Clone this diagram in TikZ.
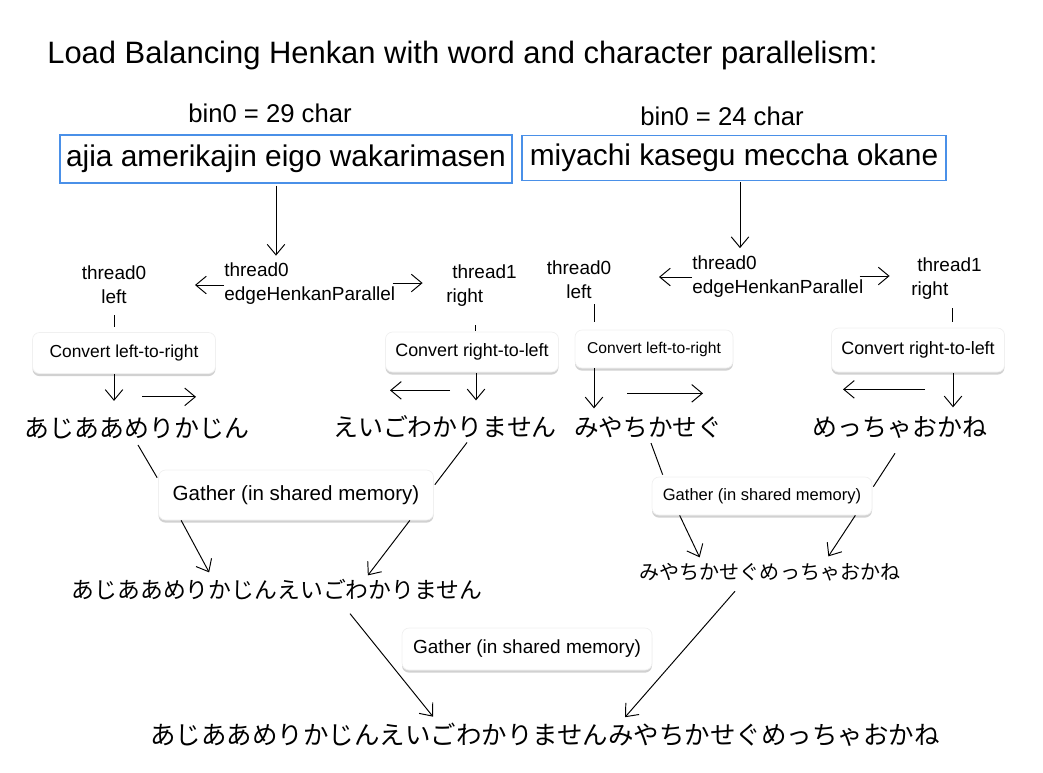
\documentclass[tikz,border=0pt]{standalone}
\usepackage{fontspec}
\setmainfont{Liberation Sans}
\newfontfamily\jpfont{Noto Sans CJK JP}
\usetikzlibrary{arrows.meta,shadows,calc}
\definecolor{binblue}{HTML}{4A90E8}
\def\px{0.02cm}
\tikzset{
  bin/.style = {draw=binblue, line width=0.7pt, inner sep=0pt,
                font=\fontsize{17}{20}\selectfont},
  card/.style = {rounded corners=4pt, fill=white, draw=black!6, line width=0.4pt,
                 drop shadow={shadow xshift=0pt, shadow yshift=-1.5pt,
                              opacity=0.3, fill=black!60}},
  thr/.style = {font=\fontsize{10.8}{13.6}\selectfont, inner sep=0pt},
  kana/.style = {font=\jpfont\fontsize{#1}{#1}\selectfont, inner sep=0pt},
  kana/.default = 14.2,
  arr/.style = {-{Straight Barb[length=6pt, width=10pt]}, line width=0.55pt},
  stub/.style = {line width=0.55pt}
}

\begin{document}
\begin{tikzpicture}[x=\px, y=-\px]
	\useasboundingbox (0,0) rectangle (1043,772);

	% Title
	\node[anchor=west, inner sep=0pt, font=\fontsize{17.6}{20}\selectfont] (title) at (47,55)
		{Load Balancing Henkan with word and character parallelism:};

	% Bins
	\node[inner sep=0pt, font=\fontsize{14.6}{17}\selectfont] (cnt0) at (270,113) {bin0 = 29 char};
	\node[inner sep=0pt, font=\fontsize{14.6}{17}\selectfont] (cnt1) at (722,116) {bin0 = 24 char};
	\node[bin, minimum width=452*\px, minimum height=48*\px] (bin0) at (286,159) {ajia amerikajin eigo wakarimasen};
	\node[bin, minimum width=424*\px, minimum height=45*\px] (bin1) at (734,158) {miyachi kasegu meccha okane};

	% Threads, bin0
	\draw[arr] (bin0.south) ++(-10,2) -- ++(0,70);
	\node[thr, align=center] (tl0) at (114,285) {thread0\\left};
	\node[thr, align=left, anchor=west] (ed0) at (224,284) {thread0\\edgeHenkanParallel};
	\node[thr, align=left, anchor=west] (tr0) at (446,286) {\hspace*{3.4pt}thread1\\right};
	\draw[arr] (ed0.west) ++(0,1) -- ++(-29,0);
	\draw[arr] (ed0.east) ++(-3,-1) -- ++(30,0);

	% Threads, bin1
	\draw[arr] (bin1.south) ++(6,1) -- ++(0,66);
	\node[thr, align=center] (tl1) at (579,280) {thread0\\left};
	\node[thr, align=left, anchor=west] (ed1) at (692,277) {thread0\\edgeHenkanParallel};
	\node[thr, align=left, anchor=west] (tr1) at (911,279) {\hspace*{3.4pt}thread1\\right};
	\draw[arr] (ed1.west) -- ++(-33,0);
	\draw[arr] (ed1.east) ++(-4,-1) -- ++(30,0);

	% Convert
	\node[card, thr, font=\fontsize{9.9}{12}\selectfont, minimum width=183*\px, minimum height=41*\px] (cl0) at (124,353) {Convert left-to-right};
	\node[card, thr, font=\fontsize{10.2}{12}\selectfont, minimum width=173*\px, minimum height=40*\px] (cr0) at (472,352) {Convert right-to-left};
	\node[card, thr, font=\fontsize{8.9}{11}\selectfont, minimum width=158*\px, minimum height=38*\px] (cl1) at (654,349) {Convert left-to-right};
	\node[card, thr, font=\fontsize{10.2}{12}\selectfont, minimum width=173*\px, minimum height=44*\px] (cr1) at (918,350) {Convert right-to-left};

	\draw[stub] (tl0.south) ++(0,11) -- ++(0,12);
	\draw[stub] (tr0.south) ++(-6,18) -- ++(0,6);
	\draw[stub] (tl1.south) ++(15,5) -- ++(0,18);
	\draw[stub] (tr1.south) ++(6,8) -- ++(0,14);

	\draw[arr] (cl0.south -| tl0) -- ++(0,27);
	\draw[arr] (cl0.south) ++(18,23) -- ++(54,0);
	\draw[arr] (cr0.south) ++(-22,18) -- ++(-60,0);
	\draw[arr] (cr0.south) ++(4,1) -- ++(0,27);
	\draw[arr] (cl1.south) ++(-60,0) -- ++(0,40);
	\draw[arr] (cl1.south) ++(-27,25) -- ++(76,0);
	\draw[arr] (cr1.south) ++(7,17) -- ++(-82,0);
	\draw[arr] (cr1.south) ++(35,1) -- ++(0,34);

	% Words
	\node[kana] (k00) at (137,428) {あじああめりかじん};
	\node[kana] (k01) at (445,427) {えいごわかりません};
	\node[kana=14] (k10) at (648,427) {みやちかせぐ};
	\node[kana] (k11) at (900,427) {めっちゃおかね};

	% Gather
	\node[card, thr, font=\fontsize{11.7}{14}\selectfont, minimum width=275*\px, minimum height=50*\px] (g0) at (296,495) {Gather (in shared memory)};
	\node[card, thr, font=\fontsize{9.4}{11}\selectfont, minimum width=220*\px, minimum height=38*\px] (g1) at (762,496) {Gather (in shared memory)};

	\draw[stub] (k00.south) ++(1,6) -- ($(g0.north west)+(-1,8)$);
	\draw[stub] (k01.south) ++(22,4) -- ($(g0.north east)+(1,15)$);
	\draw[stub] (k10.south) ++(3,5) -- ($(g1.north west)+(11,-2)$);
	\draw[stub] (k11.south) ++(-5,15) -- ($(g1.north east)+(1,10)$);

	\node[kana=13] (m0) at (277,590) {あじああめりかじんえいごわかりません};
	\node[kana=11.4] (m1) at (770,572) {みやちかせぐめっちゃおかね};

	\draw[arr] (g0.south west) ++(23,0) -- ++(28,52);
	\draw[arr] (g0.south east) ++(-24,0) -- ++(-42,55);
	\draw[arr] (g1.south west) ++(28,0) -- ++(20,42);
	\draw[arr] (g1.south east) ++(-17,0) -- ++(-27,41);

	% Final gather
	\node[card, thr, font=\fontsize{10.8}{13}\selectfont, minimum width=250*\px, minimum height=42*\px] (g2) at (527,649) {Gather (in shared memory)};
	\node[kana=14.5] (fin) at (545,735) {あじああめりかじんえいごわかりませんみやちかせぐめっちゃおかね};

	\draw[arr] (m0.south) ++(73,13) -- ++(83,103);
	\draw[arr] (m1.south) ++(-35,10) -- ++(-110,126);
\end{tikzpicture}
\end{document}
